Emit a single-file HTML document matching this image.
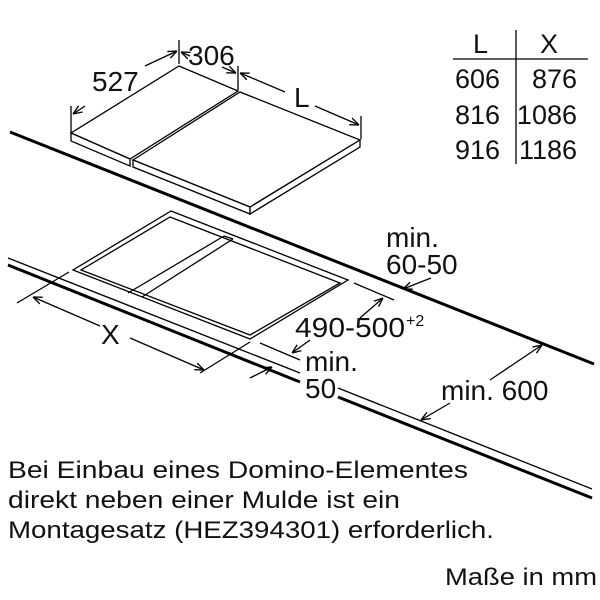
<!DOCTYPE html>
<html><head><meta charset="utf-8"><style>
html,body{margin:0;padding:0;background:#fff;width:600px;height:600px;overflow:hidden}
svg{display:block}
text{font-family:"Liberation Sans",sans-serif;fill:#111}
</style></head><body>
<svg width="600" height="600" viewBox="0 0 600 600" xmlns="http://www.w3.org/2000/svg">
<defs>
<marker id="a" viewBox="0 0 10 10" refX="10" refY="5" markerWidth="7" markerHeight="7" orient="auto-start-reverse"><path d="M0,1 L10,5 L0,9" fill="none" stroke="#000" stroke-width="1.5"/></marker>
</defs>
<g stroke="#000" fill="none" stroke-width="1.3">
<polygon points="71,133 179,66 238,91 130,159" fill="#fff"/>
<polygon points="71,133 130,159 130,166 71,141" fill="#fff"/>
<polygon points="133,160 240,92 360,140 250,207" fill="#fff"/>
<polygon points="133,160 250,207 250,214 133,167" fill="#fff"/>
<polygon points="250,207 360,140 360,147 250,214" fill="#fff"/>
<line x1="71" y1="106" x2="71" y2="132"/>
<line x1="179" y1="40" x2="179" y2="64"/>
<line x1="238" y1="66" x2="238" y2="90"/>
<line x1="361" y1="116" x2="361" y2="139"/>
<line x1="85" y1="106" x2="73" y2="114" marker-end="url(#a)"/>
<line x1="145" y1="66" x2="177" y2="51" marker-end="url(#a)"/>
<line x1="190" y1="56" x2="181" y2="52" marker-end="url(#a)"/>
<line x1="222" y1="67" x2="236" y2="73" marker-end="url(#a)"/>
<line x1="252" y1="78" x2="240" y2="73" marker-end="url(#a)"/>
<line x1="285" y1="92" x2="252" y2="78"/>
<line x1="315" y1="106" x2="359" y2="125" marker-end="url(#a)"/>
<line x1="10" y1="132" x2="594" y2="364" stroke-width="3"/>
<line x1="8" y1="258" x2="300" y2="373"/>
<line x1="8" y1="265" x2="300" y2="382" stroke-width="3"/>
<line x1="338" y1="388" x2="592" y2="489"/>
<line x1="338" y1="397" x2="592" y2="498" stroke-width="3"/>
<polygon points="171,211 348,280 250,339 73,270"/>
<polygon points="170,217 340,283 250,335 81,270"/>
<line x1="224" y1="236" x2="128" y2="293"/>
<line x1="233" y1="239" x2="142" y2="297"/>
<line x1="224" y1="236" x2="233" y2="239"/>
<line x1="69" y1="272" x2="17" y2="303"/>
<line x1="250" y1="342" x2="200" y2="373"/>
<line x1="100" y1="326" x2="33" y2="297" marker-end="url(#a)"/>
<line x1="130" y1="338" x2="204" y2="370" marker-end="url(#a)"/>
<line x1="354" y1="283" x2="394" y2="300"/>
<line x1="260" y1="343" x2="300" y2="360"/>
<line x1="360" y1="318" x2="383" y2="298" marker-end="url(#a)"/>
<line x1="310" y1="340" x2="292" y2="353" marker-end="url(#a)"/>
<line x1="250" y1="378" x2="272" y2="367" marker-end="url(#a)"/>
<line x1="431" y1="278" x2="403" y2="289" marker-end="url(#a)"/>
<line x1="490" y1="380" x2="542" y2="345" marker-end="url(#a)"/>
<line x1="450" y1="403" x2="421" y2="420" marker-end="url(#a)"/>
<line x1="516" y1="30" x2="516" y2="164"/>
<line x1="453" y1="59" x2="588" y2="59"/>
</g>
<g font-size="28">
<text x="92" y="91">527</text>
<text x="188" y="65">306</text>
<text x="294" y="107">L</text>
<text x="101" y="344">X</text>
<text x="295" y="337" textLength="110" lengthAdjust="spacingAndGlyphs">490-500</text><text x="406" y="326" font-size="16">+2</text>
<text x="305" y="371">min.</text>
<text x="305" y="398">50</text>
<text x="386" y="247">min.</text>
<text x="386" y="274">60-50</text>
<text x="441" y="400">min. 600</text>
</g>
<g font-size="27">
<text x="473" y="53">L</text>
<text x="540" y="53">X</text>
<text x="455" y="88">606</text><text x="577" y="88" text-anchor="end">876</text>
<text x="455" y="124">816</text><text x="577" y="124" text-anchor="end">1086</text>
<text x="455" y="159">916</text><text x="577" y="159" text-anchor="end">1186</text>
</g>
<g font-size="24">
<text x="8" y="478" textLength="460" lengthAdjust="spacingAndGlyphs">Bei Einbau eines Domino-Elementes</text>
<text x="8" y="508" textLength="392" lengthAdjust="spacingAndGlyphs">direkt neben einer Mulde ist ein</text>
<text x="8" y="538" textLength="486" lengthAdjust="spacingAndGlyphs">Montagesatz (HEZ394301) erforderlich.</text>
<text x="445" y="585" textLength="152" lengthAdjust="spacingAndGlyphs">Maße in mm</text>
</g>
</svg>
</body></html>
